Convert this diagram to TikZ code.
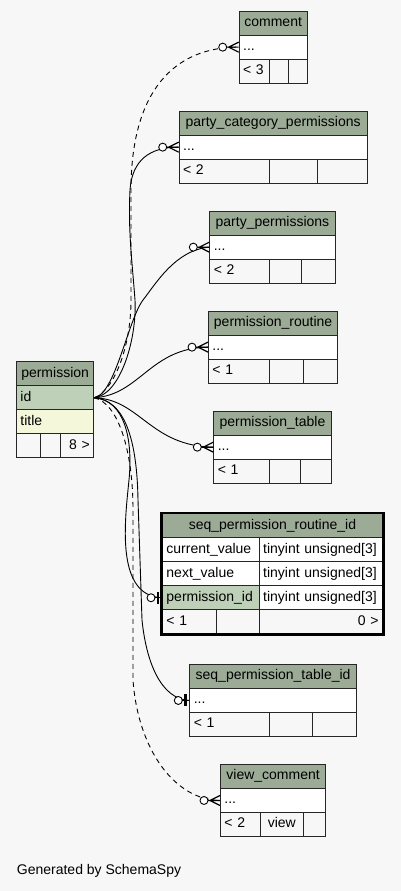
\documentclass[tikz,border=0pt]{standalone}
\usepackage{fontspec}
\setmainfont{Liberation Sans}
\usepackage{tikz}
\newcommand{\erdfont}{\fontsize{14}{16}\selectfont}

\begin{document}
\begin{tikzpicture}[x=1pt,y=-1pt,
  cell/.style={draw=black!85,line width=0.9pt,anchor=north west,minimum height=24pt,
    inner xsep=4pt,inner ysep=0pt,text height=10pt,text depth=3pt,align=left,font=\erdfont},
  head/.style={cell,fill=erdhead,align=center},
  field/.style={cell,fill=white},
  foot/.style={cell,fill=erdbg},
  fk/.style={draw=black,line width=0.9pt},
  fkview/.style={fk,dash pattern=on 5pt off 4pt},
  crowodot/.pic={
    \draw[line width=1.2pt] (-10,0) -- (0,-5) (-10,0) -- (0,5) (-12,0) -- (0,0);
    \draw[line width=0.9pt,fill=white] (-16,0) circle[radius=4];},
  teeodot/.pic={
    \draw[line width=0.9pt] (-7,0) -- (0,0);
    \fill (-5.2,-6) rectangle (-2.8,6);
    \draw[line width=0.9pt,fill=white] (-11,0) circle[radius=4];}]
\definecolor{erdhead}{HTML}{9BAB96}
\definecolor{erdkey}{HTML}{BED1B8}
\definecolor{erdindex}{HTML}{F4F7DA}
\definecolor{erdbg}{HTML}{F7F7F7}
\useasboundingbox (0,0) rectangle (401,891);
\fill[erdbg] (0,0) rectangle (401,891);

% permission
\node[head,text width=69.3pt] (perm-head) at (16,361.3) {permission};
\node[cell,fill=erdkey,text width=69.3pt] (perm-id) at (16,385.3) {id};
\node[cell,fill=erdindex,text width=69.3pt] (perm-title) at (16,409.3) {title};
\node[foot,text width=16pt] (perm-f1) at (16,433.3) {};
\node[foot,text width=12.3pt] (perm-f2) at (40,433.3) {};
\node[foot,text width=25pt,align=right] (perm-f3) at (60.3,433.3) {8 >};

% comment
\node[head,text width=60pt] (cmt-head) at (238.7,10.7) {comment};
\node[field,text width=60pt] (cmt-row) at (238.7,34.7) {...};
\node[foot,text width=22.3pt] (cmt-f1) at (238.7,58.7) {< 3};
\node[foot,text width=10.7pt] (cmt-f2) at (269,58.7) {};
\node[foot,text width=11pt] (cmt-f3) at (287.7,58.7) {};

% party_category_permissions
\node[head,text width=180pt] (pcp-head) at (178.7,110.7) {party\_category\_permissions};
\node[field,text width=180pt] (pcp-row) at (178.7,134.7) {...};
\node[foot,text width=82.3pt] (pcp-f1) at (178.7,158.7) {< 2};
\node[foot,text width=40.3pt] (pcp-f2) at (269,158.7) {};
\node[foot,text width=41.4pt] (pcp-f3) at (317.3,158.7) {};

% party_permissions
\node[head,text width=117.4pt] (pp-head) at (209.3,210.7) {party\_permissions};
\node[field,text width=117.4pt] (pp-row) at (209.3,234.7) {...};
\node[foot,text width=51.7pt] (pp-f1) at (209.3,258.7) {< 2};
\node[foot,text width=24pt] (pp-f2) at (269,258.7) {};
\node[foot,text width=25.7pt] (pp-f3) at (301,258.7) {};

% permission_routine
\node[head,text width=121.3pt] (pr-head) at (208,310.7) {permission\_routine};
\node[field,text width=121.3pt] (pr-row) at (208,334.7) {...};
\node[foot,text width=53pt] (pr-f1) at (208,358.7) {< 1};
\node[foot,text width=25.7pt] (pr-f2) at (269,358.7) {};
\node[foot,text width=26.6pt] (pr-f3) at (302.7,358.7) {};

% permission_table
\node[head,text width=109.4pt] (pt-head) at (213.3,410.7) {permission\_table};
\node[field,text width=109.4pt] (pt-row) at (213.3,434.7) {...};
\node[foot,text width=47.7pt] (pt-f1) at (213.3,458.7) {< 1};
\node[foot,text width=23pt] (pt-f2) at (269,458.7) {};
\node[foot,text width=22.7pt] (pt-f3) at (300,458.7) {};

% seq_permission_routine_id
\node[head,text width=212pt] (srid-head) at (162,513.3) {seq\_permission\_routine\_id};
\node[field,text width=88.7pt] (srid-cur) at (162,537.3) {current\_value};
\node[field,text width=115.3pt] (srid-cur-t) at (258.7,537.3) {tinyint unsigned[3]};
\node[field,text width=88.7pt] (srid-next) at (162,561.3) {next\_value};
\node[field,text width=115.3pt] (srid-next-t) at (258.7,561.3) {tinyint unsigned[3]};
\node[cell,fill=erdkey,text width=88.7pt] (srid-pid) at (162,585.3) {permission\_id};
\node[field,text width=115.3pt] (srid-pid-t) at (258.7,585.3) {tinyint unsigned[3]};
\node[foot,text width=46pt] (srid-f1) at (162,609.3) {< 1};
\node[foot,text width=34.7pt] (srid-f2) at (216,609.3) {};
\node[foot,text width=115.3pt,align=right] (srid-f3) at (258.7,609.3) {0 >};
\draw[line width=2.5pt] ([shift={(-0.5,-0.5)}]srid-head.north west) rectangle ([shift={(0.5,0.5)}]srid-f3.south east);

% seq_permission_table_id
\node[head,text width=158.7pt] (stid-head) at (189.3,664) {seq\_permission\_table\_id};
\node[field,text width=158.7pt] (stid-row) at (189.3,688) {...};
\node[foot,text width=71.7pt] (stid-f1) at (189.3,712) {< 1};
\node[foot,text width=35pt] (stid-f2) at (269,712) {};
\node[foot,text width=36pt] (stid-f3) at (312,712) {};

% view_comment
\node[head,text width=97.3pt] (vc-head) at (220,764) {view\_comment};
\node[field,text width=97.3pt] (vc-row) at (220,788) {...};
\node[foot,text width=32pt] (vc-f1) at (220,812) {< 2};
\node[foot,text width=34.7pt,align=center] (vc-f2) at (260,812) {view};
\node[foot,text width=14.6pt] (vc-f3) at (302.7,812) {};

% foreign keys
\draw[fkview] (perm-id.east) .. controls (115,390) and (131,345) .. (131,300)
  -- (131,190) .. controls (131,90) and (175,47) .. (cmt-row.west);
\draw[fk] (perm-id.east) .. controls (120,395) and (137,340) .. (135,300)
  .. controls (132,260) and (128,230) .. (130,190) .. controls (132,160) and (150,147) .. (pcp-row.west);
\draw[fk] (perm-id.east) .. controls (115,395) and (128,320) .. (143,300)
  .. controls (155,285) and (175,250) .. (pp-row.west);
\draw[fk] (perm-id.east) .. controls (140,395) and (150,348) .. (pr-row.west);
\draw[fk] (perm-id.east) .. controls (140,399) and (150,446) .. (pt-row.west);
\draw[fk] (perm-id.east) .. controls (125,400) and (133,440) .. (129,480)
  .. controls (125,520) and (115,596) .. (srid-pid.west);
\draw[fk] (perm-id.east) .. controls (125,400) and (137,440) .. (138,500)
  -- (142,620) .. controls (146,660) and (160,699) .. (stid-row.west);
\draw[fkview] (perm-id.east) .. controls (118,403) and (133,450) .. (133,510)
  -- (133,680) .. controls (138,750) and (175,800) .. (vc-row.west);
\pic at (cmt-row.west) {crowodot};
\pic at (pcp-row.west) {crowodot};
\pic at (pp-row.west) {crowodot};
\pic at (pr-row.west) {crowodot};
\pic at (pt-row.west) {crowodot};
\pic at (vc-row.west) {crowodot};
\pic at (srid-pid.west) {teeodot};
\pic at (stid-row.west) {teeodot};

\node[anchor=west,inner sep=0pt,font=\erdfont] (credit) at (16.7,871) {Generated by SchemaSpy};
\end{tikzpicture}
\end{document}
